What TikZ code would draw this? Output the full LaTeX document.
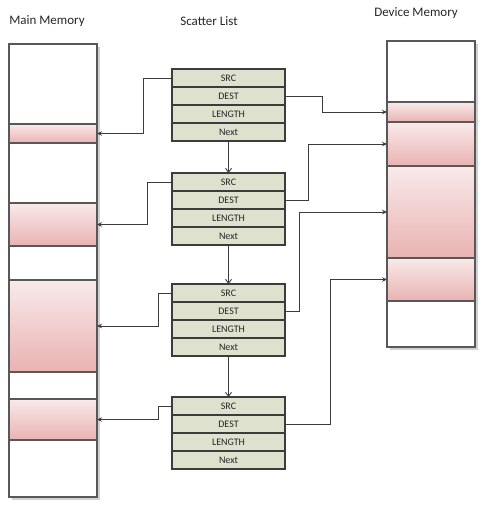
\documentclass[tikz,border=0pt]{standalone}
\usepackage{fontspec}
\setmainfont{Carlito}
\usetikzlibrary{arrows.meta}
\definecolor{boxfill}{RGB}{221,225,205}
\definecolor{pinklo}{RGB}{233,178,178}
\definecolor{pinkhi}{RGB}{249,234,234}
\definecolor{edge}{RGB}{88,88,88}
\definecolor{connc}{RGB}{60,60,60}
\begin{document}
\begin{tikzpicture}[x=1pt,y=-1pt,
  mem/.style={draw=edge,line width=1.1pt,fill=white},
  shadowc/.style={fill=black!18,draw=none},
  blk/.style={draw=edge,line width=1.1pt,top color=pinkhi,bottom color=pinklo,minimum width=88pt,inner sep=0pt,outer sep=0pt,anchor=north west},
  row/.style={draw=connc,line width=1.1pt,fill=boxfill,minimum width=113pt,minimum height=18pt,inner sep=0pt,outer sep=0pt,font=\fontsize{10}{11}\selectfont,text=black!85},
  conn/.style={draw=connc,line width=1pt,-{Stealth[length=5pt,width=4.5pt]}},
  nextarr/.style={draw=connc,line width=0.9pt,-{Straight Barb[length=4pt,width=6pt]}},
  ttl/.style={font=\fontsize{13}{15}\selectfont,text=black!85,inner sep=0pt}]
\useasboundingbox (0,0) rectangle (485,506);
% titles
\node[ttl] (tmain) at (47,21) {Main Memory};
\node[ttl] (tscat) at (209,21) {Scatter List};
\node[ttl] (tdev) at (416,13) {Device Memory};
% main memory
\path[shadowc] (11.5,46.5) rectangle (99.5,499.5);
\path[mem] (9,44) rectangle (97,497);
\node[blk,minimum height=19pt] (mm1) at (9,124) {};
\node[blk,minimum height=43pt] (mm2) at (9,203) {};
\node[blk,minimum height=92pt] (mm3) at (9,280) {};
\node[blk,minimum height=41pt] (mm4) at (9,399) {};
% device memory
\path[shadowc] (389.5,43.5) rectangle (477.5,349.5);
\path[mem] (387,41) rectangle (475,347);
\node[blk,minimum height=20pt] (dm1) at (387,102) {};
\node[blk,minimum height=44pt] (dm2) at (387,122) {};
\node[blk,minimum height=92pt] (dm3) at (387,166) {};
\node[blk,minimum height=43pt] (dm4) at (387,258) {};
% scatter list entries
\foreach \i/\y in {1/69,2/173,3/284,4/397}{
  \node[row,anchor=north west] (src\i) at (172,\y) {SRC};
  \node[row,anchor=north] (dest\i) at (src\i.south) {DEST};
  \node[row,anchor=north] (len\i) at (dest\i.south) {LENGTH};
  \node[row,anchor=north] (next\i) at (len\i.south) {Next};
}
% next links
\draw[nextarr] (next1.south) -- (src2.north);
\draw[nextarr] (next2.south) -- (src3.north);
\draw[nextarr] (next3.south) -- (src4.north);
% SRC links to main memory
\draw[conn] (src1.west) -- ++(-29,0) |- (mm1.east);
\draw[conn] (src2.west) -- ++(-25,0) |- (mm2.east);
\draw[conn] (src3.west) -- ++(-14,0) |- (mm3.east);
\draw[conn] (src4.west) -- ++(-14,0) |- (mm4.east);
% DEST links to device memory
\draw[conn] (dest1.east) -- ++(37,0) |- (dm1.west);
\draw[conn] (dest2.east) -- ++(23,0) |- (dm2.west);
\draw[conn] (dest3.east) -- ++(14,0) |- (dm3.west);
\draw[conn] (dest4.east) -- ++(45,0) |- (dm4.west);
\end{tikzpicture}
\end{document}
